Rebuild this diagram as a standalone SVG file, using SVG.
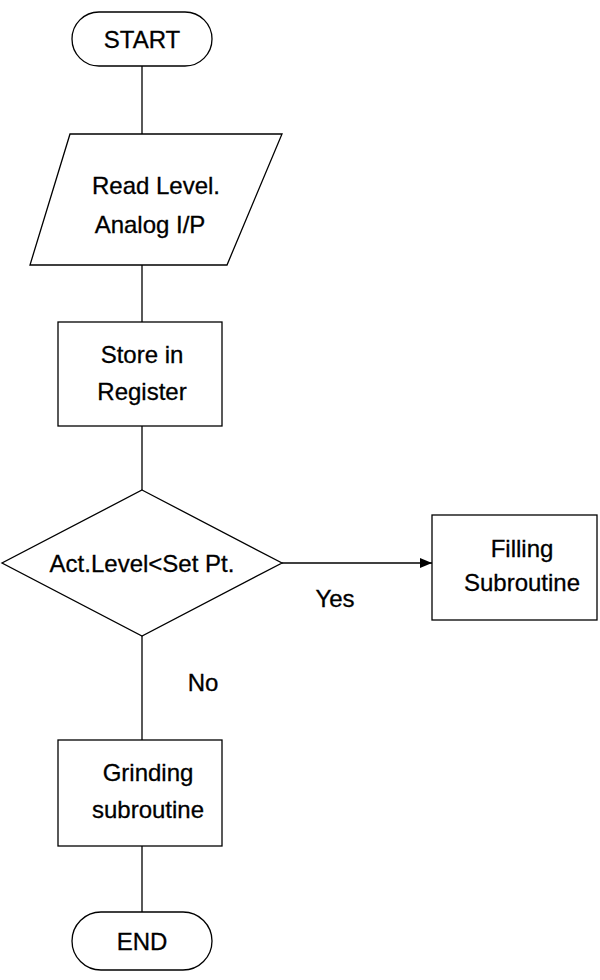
<svg xmlns="http://www.w3.org/2000/svg" width="600" height="980" viewBox="0 0 600 980">
<style>
.s{fill:#fff;stroke:#000;stroke-width:1.3}
.t{font-family:"Liberation Sans",Arial,sans-serif;font-size:24px;fill:#000;text-anchor:middle;stroke:#000;stroke-width:0.3}
.c{stroke:#000;stroke-width:1.3;fill:none}
</style>
<defs><marker id="a" markerWidth="12" markerHeight="10" refX="12" refY="5" orient="auto" markerUnits="userSpaceOnUse"><path d="M0,0L12,5L0,10z" fill="#000"/></marker></defs>
<rect width="600" height="980" fill="#fff"/>
<g id="connectors">
<path class="c" d="M142,66V134M142,265V322M142,426V490M142,636V740M142,846V912"/>
<path class="c" d="M282,563H432" marker-end="url(#a)"/>
</g>
<g id="start"><rect class="s" x="72" y="12" width="140" height="54" rx="27"/><text class="t" x="142" y="48">START</text></g>
<g id="read"><polygon class="s" points="70,134 282,134 227,265 30,265"/><text class="t" x="156" y="194">Read Level.</text><text class="t" x="150" y="233">Analog I/P</text></g>
<g id="store"><rect class="s" x="58" y="322" width="164" height="104"/><text class="t" x="142" y="363">Store in</text><text class="t" x="142" y="400">Register</text></g>
<g id="decision"><polygon class="s" points="142,490 282,563 142,636 2,563"/><text class="t" x="142" y="572">Act.Level&lt;Set Pt.</text></g>
<g id="filling"><rect class="s" x="432" y="515" width="165" height="105"/><text class="t" x="522" y="557">Filling</text><text class="t" x="522" y="591">Subroutine</text></g>
<g id="grinding"><rect class="s" x="58" y="740" width="164" height="106"/><text class="t" x="148" y="781">Grinding</text><text class="t" x="148" y="818">subroutine</text></g>
<g id="end"><rect class="s" x="72" y="912" width="140" height="58" rx="29"/><text class="t" x="142" y="950">END</text></g>
<g id="labels"><text class="t" x="335" y="607">Yes</text><text class="t" x="203" y="691">No</text></g>
</svg>
